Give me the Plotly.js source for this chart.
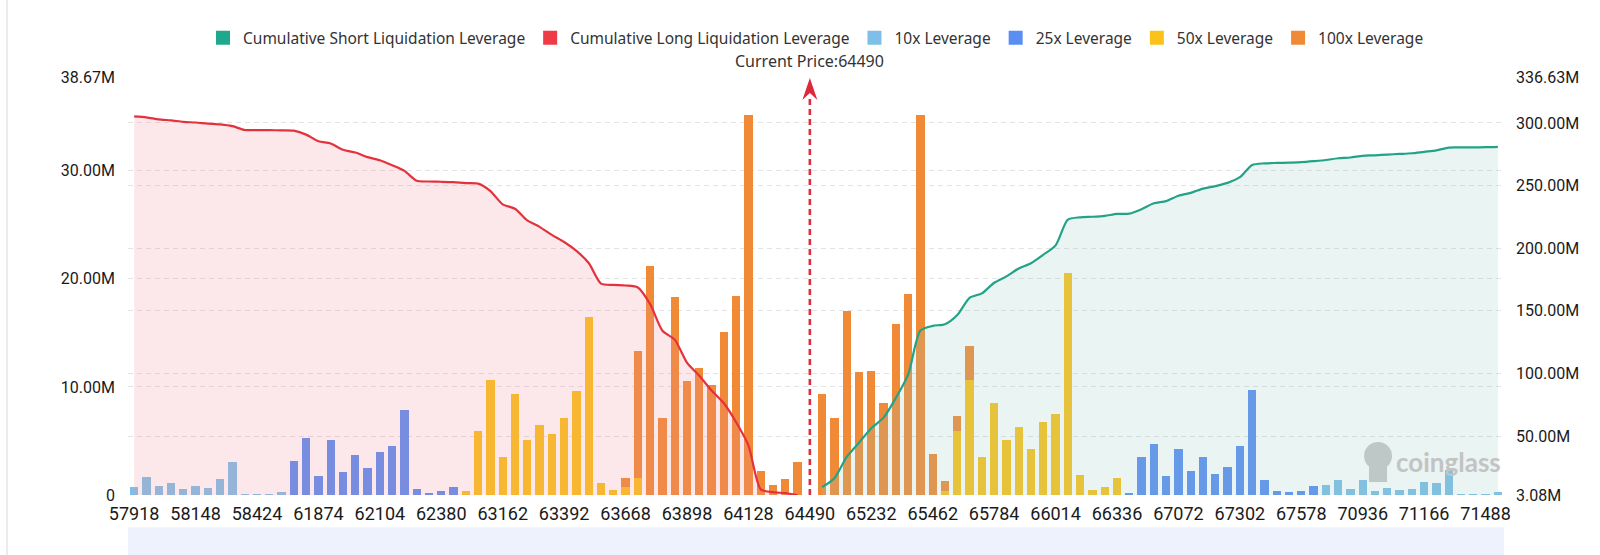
<!DOCTYPE html>
<html>
<head>
<meta charset="utf-8">
<script src="https://cdn.plot.ly/plotly-3.0.1.min.js"></script>
<style>
html,body{margin:0;padding:0;background:#fff;}
#chart{width:1600px;height:555px;}
</style>
</head>
<body>
<div id="chart"></div>
<script>
// ---------- DATA ----------
const categories = [
  "57918","57964","58010","58056","58102","58148","58194","58240","58286","58332",
  "58424","58470","58516","61782","61828","61874","61920","61966","62012","62058",
  "62104","62150","62196","62242","62288","62380","62426","63024","63070","63116",
  "63162","63208","63254","63300","63346","63392","63438","63484","63530","63622",
  "63668","63714","63760","63806","63852","63898","63944","63990","64036","64082",
  "64128","64174","64220","64266","64358","64490","65048","65094","65140","65186",
  "65232","65278","65324","65370","65416","65462","65508","65554","65646","65692",
  "65784","65830","65876","65922","65968","66014","66060","66106","66198","66244",
  "66336","66888","66934","66980","67026","67072","67118","67164","67210","67256",
  "67302","67348","67394","67440","67532","67578","67624","70798","70844","70890",
  "70936","70982","71028","71074","71120","71166","71212","71258","71304","71396",
  "71488","71534"
];

const tickLabels = [
  "57918","58148","58424","61874","62104","62380","63162","63392","63668","63898",
  "64128","64490","65232","65462","65784","66014","66336","67072","67302","67578",
  "70936","71166","71488"
];

const CURRENT_PRICE = "64490";

// values in millions (USD)
const lev10 = [
  0.71,1.63,0.83,1.14,0.55,0.83,0.62,1.45,3.05,0.09,
  0.09,0.12,0.28,0,0,0,0,0,0,0,
  0,0,0,0,0,0,0,0,0,0,
  0,0,0,0,0,0,0,0,0,0,
  0,0,0,0,0,0,0,0,0,0,
  0,0,0,0,0,0,0,0,0,0,
  0,0,0,0,0,0,0,0,0,0,
  0,0,0,0,0,0,0,0,0,0,
  0,0,0,0,0,0,0,0,0,0,
  0,0,0,0,0,0,0,0.95,1.42,0.58,
  1.38,0.37,0.62,0.46,0.55,1.17,1.08,2.28,0.12,0.09,
  0.09,0.28
];

const lev25 = [
  0,0,0,0,0,0,0,0,0,0,
  0,0,0,3.14,5.29,1.78,5.05,2.15,3.66,2.52,
  4.00,4.52,7.90,0.52,0.22,0.34,0.77,0,0,0,
  0,0,0,0,0,0,0,0,0,0,
  0,0,0,0,0,0,0,0,0,0,
  0,0,0,0,0,0,0,0,0,0,
  0,0,0,0,0,0,0,0,0,0,
  0,0,0,0,0,0,0,0,0,0,
  0,0.22,3.55,4.68,1.78,4.25,2.25,3.48,1.97,2.58,
  4.52,9.69,1.35,0.34,0.25,0.34,0.80,0,0,0,
  0,0,0,0,0,0,0,0,0,0,
  0,0
];

const lev50 = [
  0,0,0,0,0,0,0,0,0,0,
  0,0,0,0,0,0,0,0,0,0,
  0,0,0,0,0,0,0,0.40,5.88,10.6,
  3.54,9.35,5.08,6.46,5.66,7.08,9.63,16.46,1.08,0.43,
  0.70,1.57,0,0,0,0,0,0,0,0,
  0,0,0,0,0,0,0,0,0,0,
  0,0,0,0,0,0,0.40,5.88,10.6,3.54,
  8.49,5.08,6.31,4.22,6.74,7.51,20.5,1.85,0.43,0.72,
  1.57,0,0,0,0,0,0,0,0,0,
  0,0,0,0,0,0,0,0,0,0,
  0,0,0,0,0,0,0,0,0,0,
  0,0
];

const lev100 = [
  0,0,0,0,0,0,0,0,0,0,
  0,0,0,0,0,0,0,0,0,0,
  0,0,0,0,0,0,0,0,0,0,
  0,0,0,0,0,0,0,0,0,0,
  0.87,11.78,21.2,7.1,18.3,10.55,11.75,10.2,15.1,18.4,
  35.15,2.18,0.89,1.45,3.08,0,9.32,7.14,17.0,11.38,
  11.48,8.49,15.78,18.55,35.15,3.75,0.92,1.44,3.15,0,
  0,0,0,0,0,0,0,0,0,0,
  0,0,0,0,0,0,0,0,0,0,
  0,0,0,0,0,0,0,0,0,0,
  0,0,0,0,0,0,0,0,0,0,
  0,0
];

// cumulative long liquidation (left of current price), millions
const cumLong = [
  305.17,304.46,302.83,302.00,300.86,300.31,299.48,298.86,297.41,294.36,
  294.27,294.18,294.06,293.78,290.64,285.35,283.57,278.52,276.37,272.71,
  270.19,266.19,261.67,253.77,253.25,253.03,252.69,251.92,251.52,245.64,
  235.04,231.50,222.15,217.07,210.61,204.95,197.87,188.24,171.78,170.70,
  170.27,168.70,155.35,134.15,127.05,108.75,98.20,86.45,76.25,61.15,
  42.75,7.60,5.42,4.53,3.08
];

// cumulative short liquidation (right of current price), millions
const cumShort = [
  9.32,16.46,33.46,44.84,56.32,64.81,80.59,99.14,134.29,138.04,
  139.36,146.68,160.43,163.97,172.46,177.54,183.85,188.07,194.81,202.32,
  222.82,224.67,225.10,225.82,227.39,227.61,231.16,235.84,237.62,241.87,
  244.12,247.60,249.57,252.15,256.67,266.36,267.71,268.05,268.30,268.64,
  269.44,270.39,271.81,272.39,273.77,274.14,274.76,275.22,275.77,276.94,
  278.02,280.30,280.42,280.51,280.60,280.88
];

const leftTickVals = [0, 10, 20, 30, 38.67];
const leftTickText = ["0", "10.00M", "20.00M", "30.00M", "38.67M"];
const rightTickVals = [3.08, 50, 100, 150, 200, 250, 300, 336.63];
const rightTickText = ["3.08M", "50.00M", "100.00M", "150.00M", "200.00M", "250.00M", "300.00M", "336.63M"];

const seriesNames = ["Cumulative Short Liquidation Leverage", "Cumulative Long Liquidation Leverage",
                     "10x Leverage", "25x Leverage", "50x Leverage", "100x Leverage"];

// ---------- STYLE ----------
const C = {
  short: "#22a388", long: "#e4323d",
  l10: "#7dbfe9", l25: "#5b8ef2", l50: "#fbc21a", l100: "#f08a36",
  shortFill: "rgba(150,200,190,0.2)", longFill: "rgba(240,140,150,0.2)"
};
const legendColors = ["#1fa88b", "#ef3b45", C.l10, C.l25, C.l50, C.l100];

const yTickFont = {family: "Roboto, 'DejaVu Sans', sans-serif", size: 16, color: "#1a1a1a"};
const xTickFont = {family: "Roboto, 'DejaVu Sans', sans-serif", size: 18, color: "#1a1a1a"};
const textFont = {family: "'Noto Sans', 'Open Sans', sans-serif", size: 15.5, color: "#333"};
const cpFont = {family: "'Noto Sans', 'Open Sans', sans-serif", size: 16, color: "#333"};

// legend-only entries (square swatches)
const legendTraces = seriesNames.map((n, i) => ({
  type: "scatter", x: [null], y: [null], mode: "markers", name: n,
  marker: {symbol: "square", size: 14, color: legendColors[i]},
  hoverinfo: "skip", showlegend: true
}));

const barDefs = [[lev10, C.l10, 2], [lev25, C.l25, 3], [lev50, C.l50, 4], [lev100, C.l100, 5]];
const barTraces = barDefs.map(d => ({
  type: "bar", x: categories, y: d[0], name: seriesNames[d[2]],
  marker: {color: d[1], line: {width: 0}}, showlegend: false, hoverinfo: "skip"
}));

const longTrace = {
  type: "scatter", mode: "lines", yaxis: "y2",
  x: categories.slice(0, cumLong.length), y: cumLong,
  line: {color: C.long, width: 2.2, shape: "spline", smoothing: 0.7},
  fill: "tozeroy", fillcolor: C.longFill, showlegend: false, hoverinfo: "skip"
};
const shortTrace = {
  type: "scatter", mode: "lines", yaxis: "y2",
  x: categories.slice(categories.length - cumShort.length), y: cumShort,
  line: {color: C.short, width: 2.2, shape: "spline", smoothing: 0.7},
  fill: "tozeroy", fillcolor: C.shortFill, showlegend: false, hoverinfo: "skip"
};

const cpIdx = categories.indexOf(CURRENT_PRICE);

const layout = {
  width: 1600, height: 555,
  margin: {l: 128, r: 96, t: 77, b: 60, pad: 0},
  paper_bgcolor: "#ffffff", plot_bgcolor: "rgba(0,0,0,0)",
  barmode: "stack", bargap: 0.32,
  hovermode: false,
  showlegend: true,
  legend: {orientation: "h", x: 0.5, xanchor: "center", y: 1.093, yanchor: "middle",
           font: textFont, itemwidth: 30, bgcolor: "rgba(0,0,0,0)", traceorder: "normal"},
  xaxis: {type: "category", categoryorder: "array", categoryarray: categories,
          tickmode: "array", tickvals: tickLabels, ticktext: tickLabels,
          showgrid: false, zeroline: false, showline: false, ticks: "",
          tickfont: xTickFont, ticklabelstandoff: 6, fixedrange: true},
  yaxis: {range: [0, 38.67], tickmode: "array", tickvals: leftTickVals, ticktext: leftTickText,
          showgrid: true, gridcolor: "#e3e3e3", griddash: "5px,4px", gridwidth: 1,
          zeroline: false, showline: false, ticks: "", tickfont: yTickFont, ticklabelstandoff: 12,
          fixedrange: true},
  yaxis2: {overlaying: "y", side: "right", range: [3.08, 336.63], tickmode: "array",
           tickvals: rightTickVals, ticktext: rightTickText,
           showgrid: true, gridcolor: "#e3e3e3", griddash: "5px,4px", gridwidth: 1,
           zeroline: false, showline: false, ticks: "", tickfont: yTickFont, ticklabelstandoff: 11,
           fixedrange: true},
  shapes: [
    // data-zoom band under the axis
    {type: "rect", xref: "paper", yref: "paper", x0: 0, x1: 1, y0: -0.2, y1: -0.077,
     fillcolor: "#eef2fc", line: {width: 0}, layer: "below"},
    // page border at far left
    {type: "line", xref: "paper", yref: "paper", x0: -0.0879, x1: -0.0879, y0: -0.2, y1: 1.2,
     line: {color: "#e6e6e6", width: 1.5}, layer: "below"},
    // current price dashed line
    {type: "line", xref: "x", yref: "paper", x0: cpIdx, x1: cpIdx, y0: 0, y1: 0.955,
     line: {color: "#d8303e", width: 2.6, dash: "6px,4px"}},
    // arrow head
    {type: "path", xref: "x", yref: "paper", xsizemode: "pixel", ysizemode: "pixel",
     xanchor: cpIdx, yanchor: 0.9976, path: "M0,0L-7.5,-22L0,-15L7.5,-22Z",
     fillcolor: "#e0283a", line: {width: 0}},
    // watermark mascot (rough)
    {type: "circle", xref: "paper", yref: "paper", x0: 0.8983, x1: 0.9186, y0: 0.06, y1: 0.127,
     fillcolor: "#c9c9c9", line: {width: 0}, layer: "below"},
    {type: "rect", xref: "paper", yref: "paper", x0: 0.9019, x1: 0.915, y0: 0.031, y1: 0.079,
     fillcolor: "#c9c9c9", line: {width: 0}, layer: "below"}
  ],
  annotations: [
    {xref: "x", yref: "paper", x: cpIdx, y: 1.038, yanchor: "middle",
     text: "Current Price:" + CURRENT_PRICE, showarrow: false, font: cpFont},
    {xref: "paper", yref: "paper", x: 0.96, y: 0.079, xanchor: "center", yanchor: "middle",
     text: "<b>coinglass</b>", showarrow: false,
     font: {family: "Lato, 'Open Sans', sans-serif", size: 26, color: "#c3c3c3"}}
  ]
};

const data = legendTraces.concat(barTraces, [longTrace, shortTrace]);
Plotly.newPlot("chart", data, layout, {displayModeBar: false, staticPlot: true});
</script>
</body>
</html>
